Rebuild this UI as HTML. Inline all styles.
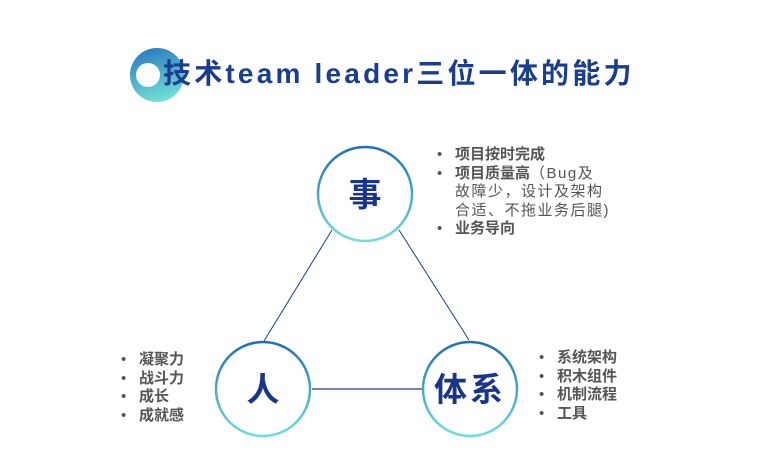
<!DOCTYPE html>
<html><head><meta charset="utf-8"><style>
body{margin:0;width:767px;height:476px;background:#fff;overflow:hidden;position:relative;font-family:"Liberation Sans","Noto Sans CJK SC",sans-serif}
.t{position:absolute;left:163px;top:52px;font-size:28px;font-weight:bold;color:#1b3d8f;letter-spacing:3.2px;white-space:nowrap}
ul{position:absolute;margin:0;padding:0;list-style:none;font-size:15px;font-weight:bold;color:#555;line-height:18.5px;white-space:nowrap}
li{position:relative;padding-left:18px}
li:before{content:"•";position:absolute;left:0;font-weight:normal}
.n{font-weight:normal;letter-spacing:1.5px}
.c{position:absolute;font-size:33px;font-weight:bold;color:#17358c;text-align:center;line-height:1}
</style></head><body>
<svg width="767" height="476" style="position:absolute;left:0;top:0">
<defs>
<linearGradient id="g" x1="0" y1="0" x2="0" y2="1"><stop offset="0" stop-color="#1f6fb8"/><stop offset="1" stop-color="#6fe0d8"/></linearGradient>
<linearGradient id="g2" x1="0.3" y1="0" x2="0.6" y2="1"><stop offset="0" stop-color="#2b7cc0"/><stop offset="1" stop-color="#74e2d6"/></linearGradient>
</defs>
<circle cx="157" cy="75" r="27" fill="url(#g2)"/>
<circle cx="148" cy="75" r="12" fill="#fff"/>
<line x1="332" y1="230" x2="264" y2="341" stroke="#1b3d8f" stroke-width="1"/>
<line x1="399" y1="230" x2="469" y2="340" stroke="#1b3d8f" stroke-width="1"/>
<line x1="312" y1="389" x2="422" y2="389" stroke="#1b3d8f" stroke-width="1.3"/>
<circle cx="365" cy="194" r="47" fill="#fff" stroke="url(#g)" stroke-width="2.5"/>
<circle cx="263" cy="389" r="47" fill="#fff" stroke="url(#g)" stroke-width="2.5"/>
<circle cx="470" cy="389" r="47" fill="#fff" stroke="url(#g)" stroke-width="2.5"/>
</svg>
<div class="t">技术team leader三位一体的能力</div>
<div class="c" style="left:335px;top:178px;width:60px">事</div>
<div class="c" style="left:233px;top:373px;width:60px">人</div>
<div class="c" style="left:428px;top:373px;width:84px;letter-spacing:3px">体系</div>
<ul style="left:437px;top:146px">
<li>项目按时完成</li>
<li>项目质量高<span class="n">（Bug及<br>故障少，设计及架构<br>合适、不拖业务后腿)</span></li>
<li>业务导向</li>
</ul>
<ul style="left:121px;top:351px">
<li>凝聚力</li><li>战斗力</li><li>成长</li><li>成就感</li>
</ul>
<ul style="left:539px;top:349px">
<li>系统架构</li><li>积木组件</li><li>机制流程</li><li>工具</li>
</ul>
</body></html>
